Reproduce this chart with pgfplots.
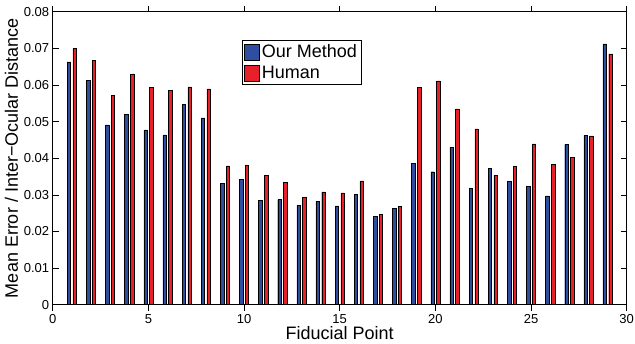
\documentclass[border=0pt]{standalone}
\usepackage{pgfplots}
\pgfplotsset{compat=1.18}
\usepackage{fontspec}
\setmainfont{Liberation Sans}
\definecolor{mblue}{RGB}{46,78,160}
\definecolor{mred}{RGB}{232,32,42}
\begin{document}
\begin{tikzpicture}
\begin{axis}[
  scale only axis, width=574pt, height=293pt,
  xmin=0, xmax=30, ymin=0, ymax=0.08,
  xtick={0,5,10,15,20,25,30},
  ytick={0,0.01,0.02,0.03,0.04,0.05,0.06,0.07,0.08},
  yticklabels={0,0.01,0.02,0.03,0.04,0.05,0.06,0.07,0.08},
  scaled y ticks=false,
  tick align=inside, major tick length=6pt,
  tick style={black, line width=0.5pt},
  axis line style={line width=0.6pt},
  ticklabel style={font=\fontsize{13}{15}\selectfont},
  /pgf/number format/assume math mode=true,
  xlabel={Fiducial Point},
  ylabel={Mean Error / Inter−Ocular Distance},
  label style={font=\fontsize{18}{21}\selectfont},
  xlabel style={yshift=4pt},
  ylabel style={yshift=-1pt},
  ybar, bar width=0.18,
  legend style={at={(rel axis cs:0.3298,0.902)}, anchor=north west, draw=black, line width=0.8pt,
    font=\fontsize{18}{21}\selectfont, inner sep=2pt, row sep=3pt},
  legend cell align=left,
  legend image code/.code={\draw[#1, line width=0.5pt] (0pt,-8pt) rectangle (15pt,8pt);},
]
\addplot[fill=mblue, draw=black, line width=0.4pt, bar shift=-0.15] coordinates {
(1,0.0663) (2,0.0613) (3,0.0491) (4,0.0519) (5,0.0477) (6,0.0464) (7,0.0547) (8,0.0510)
(9,0.0332) (10,0.0342) (11,0.0285) (12,0.0287) (13,0.0271) (14,0.0282) (15,0.0270)
(16,0.0302) (17,0.0242) (18,0.0264) (19,0.0385) (20,0.0363) (21,0.0430) (22,0.0317)
(23,0.0372) (24,0.0336) (25,0.0323) (26,0.0297) (27,0.0438) (28,0.0462) (29,0.0712)
};
\addlegendentry{Our Method}
\addplot[fill=mred, draw=black, line width=0.4pt, bar shift=0.15] coordinates {
(1,0.0699) (2,0.0667) (3,0.0571) (4,0.0630) (5,0.0593) (6,0.0586) (7,0.0595) (8,0.0589)
(9,0.0379) (10,0.0381) (11,0.0353) (12,0.0335) (13,0.0293) (14,0.0308) (15,0.0305)
(16,0.0338) (17,0.0246) (18,0.0268) (19,0.0593) (20,0.0611) (21,0.0535) (22,0.0480)
(23,0.0354) (24,0.0377) (25,0.0439) (26,0.0384) (27,0.0402) (28,0.0461) (29,0.0685)
};
\addlegendentry{Human}
\end{axis}
\pgfresetboundingbox
\path[use as bounding box] ([xshift=-52.7pt,yshift=-39.3pt]current axis.south west) rectangle ([xshift=8.3pt,yshift=11.7pt]current axis.north east);
\end{tikzpicture}
\end{document}
